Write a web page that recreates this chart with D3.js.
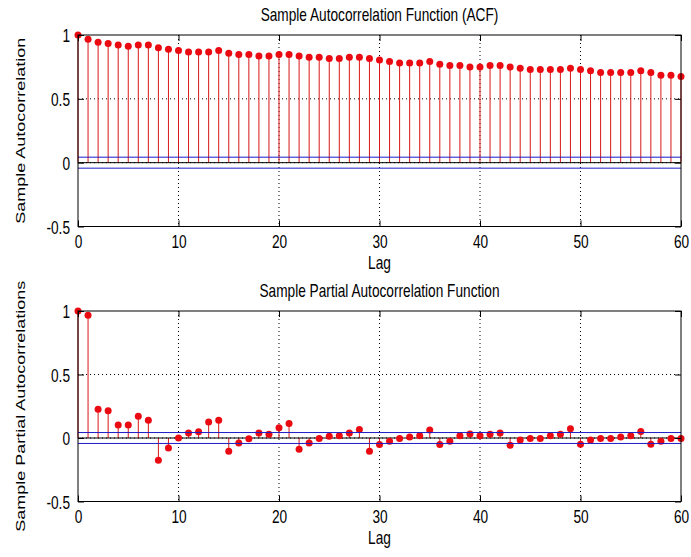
<!DOCTYPE html>
<html>
<head>
<meta charset="utf-8">
<script src="https://cdn.jsdelivr.net/npm/d3@7"></script>
<style>
  body { margin: 0; background: #fff; }
  svg { display: block; }
  text { font-family: "Liberation Sans", Arial, Helvetica, sans-serif; fill: #000; }
</style>
</head>
<body>
<div id="chart"></div>
<script>
// --- DATA ---
// sample ACF, lags 0..60
const acfValues = [
  1.000, 0.966, 0.943, 0.933, 0.922, 0.912, 0.922, 0.922, 0.901, 0.888,
  0.878, 0.867, 0.867, 0.867, 0.878, 0.857, 0.847, 0.847, 0.836, 0.836,
  0.847, 0.847, 0.836, 0.826, 0.826, 0.815, 0.815, 0.826, 0.826, 0.815,
  0.805, 0.792, 0.781, 0.781, 0.781, 0.792, 0.771, 0.761, 0.761, 0.750,
  0.750, 0.761, 0.761, 0.750, 0.740, 0.729, 0.729, 0.729, 0.729, 0.740,
  0.729, 0.719, 0.706, 0.706, 0.706, 0.706, 0.719, 0.706, 0.685, 0.685,
  0.675
];

// sample PACF, lags 0..60
const pacfValues = [
  1.000, 0.966, 0.226, 0.215, 0.102, 0.102, 0.171, 0.139, -0.176, -0.079,
  0.000, 0.039, 0.050, 0.126, 0.139, -0.105, -0.039, -0.005, 0.039, 0.029,
  0.081, 0.115, -0.089, -0.039, -0.003, 0.013, 0.018, 0.039, 0.066, -0.105,
  -0.052, -0.026, -0.003, 0.008, 0.018, 0.063, -0.052, -0.026, 0.018, 0.031,
  0.018, 0.029, 0.039, -0.058, -0.016, -0.003, -0.003, 0.018, 0.029, 0.073,
  -0.050, -0.016, -0.003, -0.003, 0.008, 0.018, 0.052, -0.050, -0.026, -0.003,
  -0.003
];

const confBound = 0.043;          // +/- confidence bounds (blue lines)
const xTicks = [0, 10, 20, 30, 40, 50, 60];
const yTicks = [-0.5, 0, 0.5, 1];
const xLabel = "Lag";

const panels = [
  { title: "Sample Autocorrelation Function (ACF)", ylabel: "Sample Autocorrelation", values: acfValues, top: 35, bottom: 226.5 },
  { title: "Sample Partial Autocorrelation Function", ylabel: "Sample Partial Autocorrelations", values: pacfValues, top: 311, bottom: 501.5 }
];

// --- SETUP ---
const W = 691, H = 557;
const left = 78, right = 681;
const FS = 18;      // font size
const SX = 0.76;    // the reference text is squeezed horizontally

const svg = d3.select("#chart").append("svg")
    .attr("width", W)
    .attr("height", H);

function drawPanel(p) {
    const g = svg.append("g");
    const lags = p.values.map((_, i) => i);

    const x = d3.scaleLinear().domain([0, 60]).range([left, right]);
    const y = d3.scaleLinear().domain([-0.5, 1]).range([p.bottom, p.top]);

    // grid (dotted)
    g.append("g").selectAll("line")
        .data(xTicks.slice(1, -1))
        .join("line")
        .attr("x1", d => x(d)).attr("x2", d => x(d))
        .attr("y1", p.top).attr("y2", p.bottom)
        .attr("stroke", "#000").attr("stroke-width", 1)
        .attr("stroke-dasharray", "1,3");
    g.append("g").selectAll("line")
        .data(yTicks.slice(1, -1))
        .join("line")
        .attr("x1", left).attr("x2", right)
        .attr("y1", d => y(d)).attr("y2", d => y(d))
        .attr("stroke", "#000").attr("stroke-width", 1)
        .attr("stroke-dasharray", "1,3");

    // stems
    g.append("g").selectAll("line")
        .data(lags)
        .join("line")
        .attr("x1", d => x(d)).attr("x2", d => x(d))
        .attr("y1", y(0)).attr("y2", d => y(p.values[d]))
        .attr("stroke", "#d81818").attr("stroke-width", 1);

    // baseline
    g.append("line")
        .attr("x1", x(0)).attr("x2", x(60))
        .attr("y1", y(0)).attr("y2", y(0))
        .attr("stroke", "#000").attr("stroke-width", 1);

    // markers
    g.append("g").selectAll("circle")
        .data(lags)
        .join("circle")
        .attr("cx", d => x(d))
        .attr("cy", d => y(p.values[d]))
        .attr("r", 3.5)
        .attr("fill", "#ea0a12");

    // confidence bounds
    g.append("g").selectAll("line")
        .data([confBound, -confBound])
        .join("line")
        .attr("x1", x(0)).attr("x2", x(60))
        .attr("y1", d => y(d)).attr("y2", d => y(d))
        .attr("stroke", "#1c1cc8").attr("stroke-width", 1);

    // axes, ticks pointing inward
    const fmt = d => String(d);
    const axB = g.append("g").attr("transform", `translate(0,${p.bottom})`)
        .call(d3.axisBottom(x).tickValues(xTicks).tickFormat(fmt).tickSize(-6));
    const axT = g.append("g").attr("transform", `translate(0,${p.top})`)
        .call(d3.axisTop(x).tickValues(xTicks).tickFormat("").tickSize(-6));
    const axL = g.append("g").attr("transform", `translate(${left},0)`)
        .call(d3.axisLeft(y).tickValues(yTicks).tickFormat(fmt).tickSize(-6));
    const axR = g.append("g").attr("transform", `translate(${right},0)`)
        .call(d3.axisRight(y).tickValues(yTicks).tickFormat("").tickSize(-6));

    [axB, axT, axL, axR].forEach(a => {
        a.select(".domain").remove();
        a.selectAll(".tick line").attr("stroke", "#000");
    });

    axB.selectAll("text")
        .attr("y", 22).attr("dy", null)
        .attr("font-size", FS)
        .attr("transform", `scale(${SX},1)`);
    axL.selectAll("text")
        .attr("x", -8 / SX).attr("dy", null).attr("y", 6.5)
        .attr("font-size", FS)
        .attr("transform", `scale(${SX},1)`);
    axB.attr("font-family", null);
    axL.attr("font-family", null);

    // frame
    g.append("rect")
        .attr("x", left).attr("y", p.top)
        .attr("width", right - left).attr("height", p.bottom - p.top)
        .attr("fill", "none").attr("stroke", "#000").attr("stroke-width", 1);

    // labels
    const cx = (left + right) / 2;
    g.append("text")
        .attr("text-anchor", "middle")
        .attr("font-size", FS)
        .attr("transform", `translate(${cx},${p.top - 14}) scale(${SX},1)`)
        .text(p.title);
    g.append("text")
        .attr("text-anchor", "middle")
        .attr("font-size", FS)
        .attr("transform", `translate(${cx},${p.bottom + 42}) scale(${SX},1)`)
        .text(xLabel);
    g.append("text")
        .attr("text-anchor", "middle")
        .attr("font-size", FS)
        .attr("transform", `translate(25,${(p.top + p.bottom) / 2}) rotate(-90) scale(1,${SX})`)
        .text(p.ylabel);
}

panels.forEach(drawPanel);
</script>
</body>
</html>
